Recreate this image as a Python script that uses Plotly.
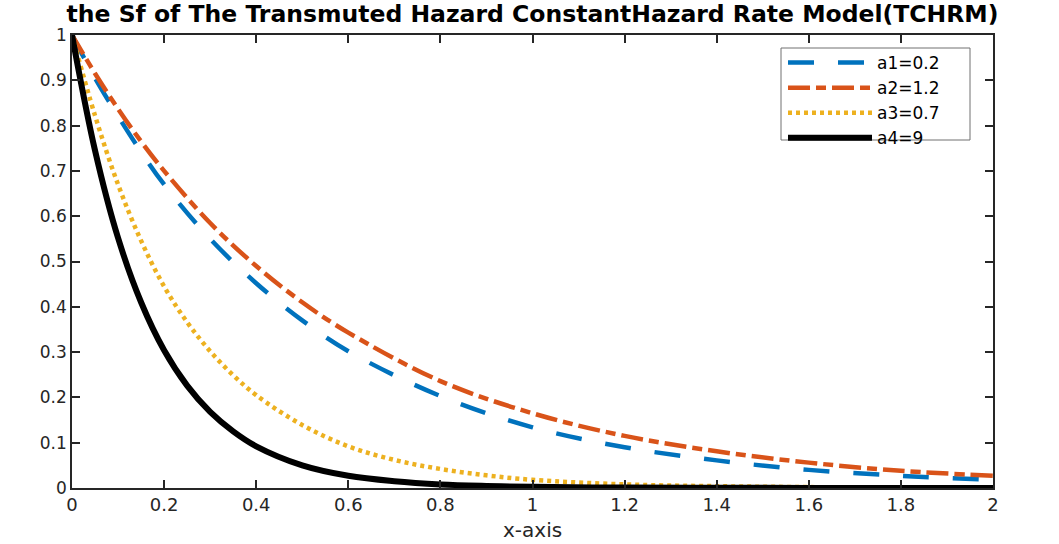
import plotly.graph_objects as go

# ---- data ----
x_a12 = [0, 0.05, 0.1, 0.15, 0.2, 0.3, 0.4, 0.5, 0.6, 0.8, 1.0, 1.2, 1.4, 1.6, 1.8, 2.0]
sf_a1 = [1.0, 0.905, 0.821, 0.742, 0.670, 0.550, 0.452, 0.370, 0.302, 0.203, 0.134, 0.090, 0.061, 0.040, 0.027, 0.018]
sf_a2 = [1.0, 0.915, 0.837, 0.765, 0.700, 0.585, 0.490, 0.410, 0.343, 0.236, 0.165, 0.115, 0.081, 0.056, 0.038, 0.027]

x_a3 = [0, 0.05, 0.1, 0.15, 0.2, 0.25, 0.3, 0.35, 0.4, 0.5, 0.6, 0.7, 0.8, 0.9, 1.0, 1.2, 1.4, 1.6, 1.8, 2.0]
sf_a3 = [1.0, 0.822, 0.670, 0.546, 0.445, 0.366, 0.302, 0.249, 0.205, 0.139, 0.092, 0.062, 0.042, 0.028, 0.018, 0.008, 0.004, 0.002, 0.001, 0.0005]

x_a4 = [0, 0.05, 0.1, 0.15, 0.2, 0.25, 0.3, 0.35, 0.4, 0.5, 0.6, 0.7, 0.8, 0.9, 1.0, 1.2, 1.4, 1.6, 2.0]
sf_a4 = [1.0, 0.745, 0.552, 0.410, 0.304, 0.226, 0.168, 0.125, 0.092, 0.050, 0.027, 0.015, 0.008, 0.0045, 0.0025, 0.001, 0.0005, 0.0002, 0.0]

names = ["a1=0.2", "a2=1.2", "a3=0.7", "a4=9"]
title_text = "the Sf of The Transmuted Hazard ConstantHazard Rate Model(TCHRM)"
x_title = "x-axis"
x_ticks = [0, 0.2, 0.4, 0.6, 0.8, 1, 1.2, 1.4, 1.6, 1.8, 2]
y_ticks = [0, 0.1, 0.2, 0.3, 0.4, 0.5, 0.6, 0.7, 0.8, 0.9, 1]

FONT = "DejaVu Sans"
AX = "#262626"

W, H = 1059, 544
ML, MR, MT, MB = 72, 66, 35, 56
PW, PH = W - ML - MR, H - MT - MB


def px_x(p):
    return (p - ML) / PW


def px_y(p):
    return (H - MB - p) / PH


fig = go.Figure()
fig.add_trace(go.Scatter(x=x_a12, y=sf_a1, mode="lines", name=names[0],
                         line=dict(color="#0072BD", width=4.5, dash="26px,24px", shape="spline", smoothing=1)))
fig.add_trace(go.Scatter(x=x_a12, y=sf_a2, mode="lines", name=names[1],
                         line=dict(color="#D95319", width=4.5, dash="22px,6px,10px,6px", shape="spline", smoothing=1)))
fig.add_trace(go.Scatter(x=x_a3, y=sf_a3, mode="lines", name=names[2],
                         line=dict(color="#EDB120", width=4.5, dash="4px,4px", shape="spline", smoothing=1)))
fig.add_trace(go.Scatter(x=x_a4, y=sf_a4, mode="lines", name=names[3],
                         line=dict(color="#000000", width=6, shape="spline", smoothing=1)))

# legend frame (layout decoration)
fig.add_shape(type="rect", xref="paper", yref="paper",
              x0=px_x(781), x1=px_x(970), y0=px_y(140), y1=px_y(48),
              line=dict(color="#707070", width=1), fillcolor="white", layer="below")

# x-axis title as annotation so the plot area stays fixed
fig.add_annotation(text=x_title, xref="paper", yref="paper", x=0.5, y=px_y(530),
                   xanchor="center", yanchor="middle", showarrow=False,
                   font=dict(family=FONT, size=20, color=AX))

fig.update_layout(
    width=W, height=H,
    margin=dict(l=ML, r=MR, t=MT, b=MB, autoexpand=False),
    paper_bgcolor="white", plot_bgcolor="white",
    font=dict(family=FONT, size=17, color=AX),
    title=dict(text="<b>" + title_text + "</b>", x=0.5, xref="paper", xanchor="center",
               y=(H - 14) / H, yref="container", yanchor="middle",
               font=dict(family=FONT, size=23.5, color="#000000")),
    legend=dict(x=px_x(783), y=px_y(45), xanchor="left", yanchor="top",
                bgcolor="rgba(0,0,0,0)", borderwidth=0,
                font=dict(family=FONT, size=17, color="#000000"),
                itemwidth=84, tracegroupgap=0),
    showlegend=True,
)
fig.update_xaxes(range=[0, 2], tickvals=x_ticks, ticktext=[f"{v:g}" for v in x_ticks],
                 ticks="inside", ticklen=8, tickwidth=1.5, tickcolor=AX,
                 showline=True, linecolor=AX, linewidth=1.5, mirror="ticks",
                 showgrid=False, zeroline=False, automargin=False,
                 tickfont=dict(family=FONT, size=18, color=AX))
fig.update_yaxes(range=[0, 1], tickvals=y_ticks, ticktext=[f"{v:g}" for v in y_ticks],
                 ticks="inside", ticklen=8, tickwidth=1.5, tickcolor=AX,
                 showline=True, linecolor=AX, linewidth=1.5, mirror="ticks",
                 showgrid=False, zeroline=False, automargin=False,
                 tickfont=dict(family=FONT, size=17, color=AX))

fig.write_html("out.html")
